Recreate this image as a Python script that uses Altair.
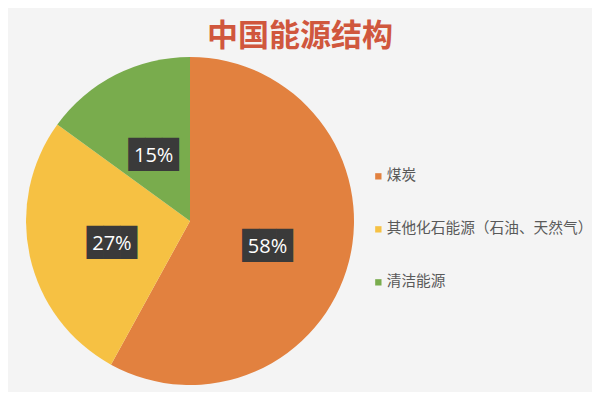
import altair as alt
import pandas as pd

categories = ["煤炭", "其他化石能源（石油、天然气）", "清洁能源"]
values = [58, 27, 15]
labels = ["58%", "27%", "15%"]
colors = ["#E2813F", "#F6C143", "#79AC4D"]
title_text = "中国能源结构"

df = pd.DataFrame({
    "category": categories,
    "value": values,
    "label": labels,
    "idx": list(range(len(categories))),
})

CX, CY, R = 182, 213, 164

base = alt.Chart(df).encode(
    theta=alt.Theta("value:Q", stack=True),
    order=alt.Order("idx:Q"),
    x=alt.value(CX),
    y=alt.value(CY),
)

arcs = base.mark_arc(outerRadius=R, stroke=None).encode(
    color=alt.Color(
        "category:N",
        scale=alt.Scale(domain=categories, range=colors),
        sort=categories,
        legend=alt.Legend(
            title=None,
            orient="none",
            legendX=363,
            legendY=161,
            symbolType="square",
            symbolSize=40,
            symbolStrokeWidth=0,
            labelFontSize=14.7,
            labelFont="Noto Sans CJK SC",
            labelColor="#595959",
            labelOffset=1,
            rowPadding=37,
            labelLimit=400,
        ),
    )
)

boxes = base.mark_text(
    radius=80, dy=6, font="DejaVu Sans Mono", fontSize=28, color="#3A3A3A",
    baseline="middle", align="center"
).encode(text=alt.value("███"))

texts = base.mark_text(
    radius=80, dy=6, font="Open Sans", fontSize=20, color="#FFFFFF",
    baseline="middle", align="center"
).encode(text="label:N")

title_df = pd.DataFrame({"t": [title_text]})
title = alt.Chart(title_df).mark_text(
    font="Noto Sans CJK SC", fontSize=31, fontWeight="bold",
    color="#D0573D", align="center", baseline="middle"
).encode(text="t:N", x=alt.value(292), y=alt.value(29))

chart = alt.layer(arcs, boxes, texts, title).properties(
    width=584, height=384,
    autosize=alt.AutoSizeParams(type="none"),
    padding=0,
    background="#F4F4F4",
).configure_view(stroke=None)

chart.save("out.html", embed_options={"renderer": "svg", "actions": False})
